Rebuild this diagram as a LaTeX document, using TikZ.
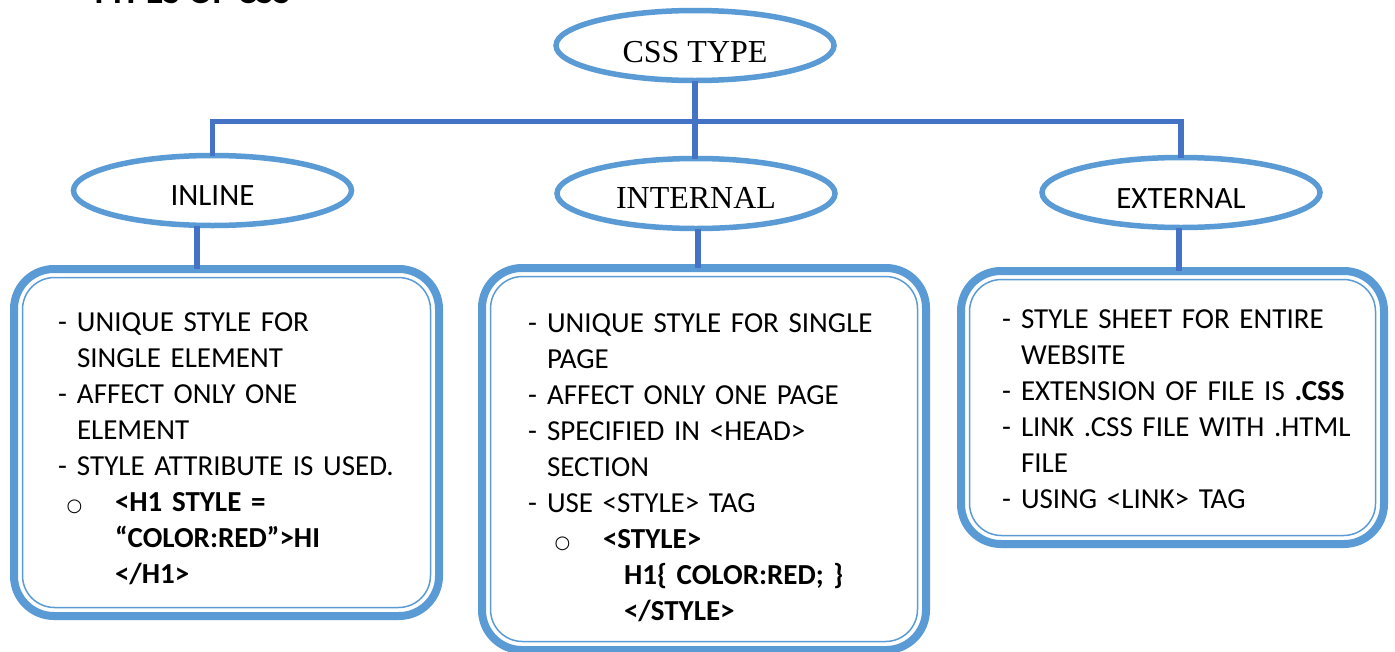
\documentclass[tikz,border=0pt]{standalone}
\usepackage{fontspec}
\setmainfont{Carlito}
\newfontfamily\serifA{Liberation Serif}
\newfontfamily\symA{DejaVu Sans}
\usetikzlibrary{shapes.geometric}
\definecolor{lblue}{HTML}{5B9BD5}
\definecolor{dblue}{HTML}{4472C4}
\newcommand\dsh{\makebox[19pt][l]{-}}
\newcommand\cont{\hspace*{19pt}}
\newcommand\strt{\rule{0pt}{24pt}}
\newcommand\circb[2]{\hspace*{#1}\makebox[#2][l]{\symA\fontsize{18}{20}\selectfont ○}}
\begin{document}
\begin{tikzpicture}[x=1pt,y=-1pt,
  oval/.style={ellipse, draw=lblue, line width=5.5pt, minimum width=278pt, minimum height=70pt, inner sep=0pt, outer sep=0pt, fill=white, text depth=0pt},
  conn/.style={draw=dblue, line width=5.5pt},
  card/.style={rectangle, draw=lblue, line width=8pt, rounded corners=40pt, inner sep=0pt, outer sep=0pt},
  cardin/.style={draw=lblue, line width=1.5pt, rounded corners=32pt},
  txt/.style={anchor=north west, inner sep=0pt, outer sep=0pt, text width=400pt, align=left, font=\fontsize{29}{36}\selectfont},
  serifbig/.style={font=\serifA\fontsize{32}{38}\selectfont},
  sansbig/.style={font=\fontsize{31}{37}\selectfont},
]
\useasboundingbox (0,0) rectangle (1395,651);
\fill[white] (0,0) rectangle (1395,651);

% title (cut off at the top edge, as in the reference)
\begin{scope}
  \clip (0,0) rectangle (1395,651);
  \node[anchor=base west, inner sep=0pt, font=\bfseries\fontsize{36}{40}\selectfont] (title) at (90,3.5) {TYPES OF CSS};
\end{scope}

% boxes
\node[card, minimum width=425pt, minimum height=347pt] (box1) at (226.5,442.5) {};
\node[card, minimum width=444pt, minimum height=382pt] (box2) at (704,459) {};
\node[card, minimum width=423pt, minimum height=273pt] (box3) at (1172.5,407.5) {};
\draw[cardin] ([xshift=8.5pt,yshift=-8.5pt]box1.north west) rectangle ([xshift=-8.5pt,yshift=8.5pt]box1.south east);
\draw[cardin] ([xshift=8.5pt,yshift=-8.5pt]box2.north west) rectangle ([xshift=-8.5pt,yshift=8.5pt]box2.south east);
\draw[cardin] ([xshift=8.5pt,yshift=-8.5pt]box3.north west) rectangle ([xshift=-8.5pt,yshift=8.5pt]box3.south east);

% ellipses
\node[oval, serifbig, text height=33pt] (css) at (695,45.5) {CSS TYPE};
\node[oval, sansbig, text height=29pt] (inline) at (212.5,190.5) {INLINE};
\node[oval, serifbig, text height=29pt] (internal) at (696,193.5) {INTERNAL};
\node[oval, sansbig, text height=31pt] (external) at (1181,192.5) {EXTERNAL};

% connectors
\coordinate (jn) at (695,121.5);
\path[conn] (inline.north) |- (jn) -| (external.north);
\path[conn] (css.south) -- (css.south |- internal.north);
\coordinate (i1) at ([xshift=-15.5pt]inline.south);
\coordinate (i2) at ([xshift=2pt]internal.south);
\coordinate (i3) at ([xshift=-2pt]external.south);
\path[conn] (i1) -- (i1 |- box1.north);
\path[conn] (i2) -- (i2 |- box2.north);
\path[conn] (i3) -- (i3 |- box3.north);

% texts
\node[txt] (t1) at (58,307) {\strt\dsh UNIQUE STYLE FOR\\
\cont SINGLE ELEMENT\\
\dsh AFFECT ONLY ONE\\
\cont ELEMENT\\
\dsh STYLE ATTRIBUTE IS USED.\\
\circb{8.5pt}{48.5pt}\textbf{<H1 STYLE =}\\
\hspace*{57pt}\textbf{“COLOR:RED”>HI}\\
\hspace*{57pt}\textbf{</H1>}};

\node[txt] (t2) at (528,308) {\strt\dsh UNIQUE STYLE FOR SINGLE\\
\cont PAGE\\
\dsh AFFECT ONLY ONE PAGE\\
\dsh SPECIFIED IN <HEAD>\\
\cont SECTION\\
\dsh USE <STYLE> TAG\\
\circb{26.5pt}{48.5pt}\textbf{<STYLE>}\\
\hspace*{96pt}\textbf{H1\{ COLOR:RED; \}}\\
\hspace*{96pt}\textbf{</STYLE>}};

\node[txt] (t3) at (1002,304) {\strt\dsh STYLE SHEET FOR ENTIRE\\
\cont WEBSITE\\
\dsh EXTENSION OF FILE IS \textbf{.CSS}\\
\dsh LINK .CSS FILE WITH .HTML\\
\cont FILE\\
\dsh USING <LINK> TAG};
\end{tikzpicture}
\end{document}
